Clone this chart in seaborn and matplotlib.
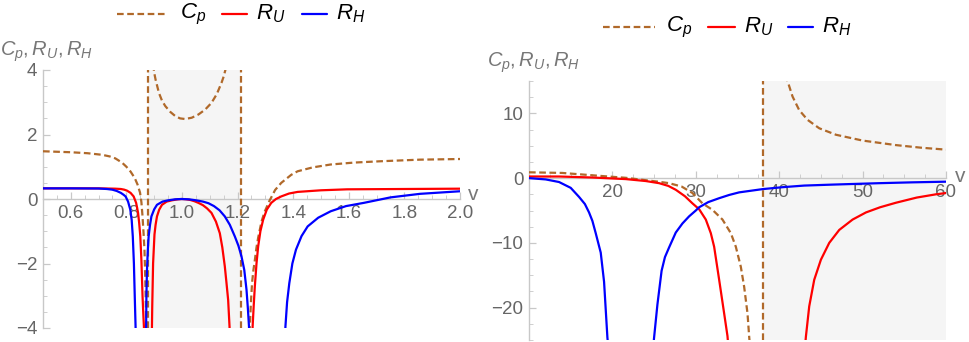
import matplotlib
matplotlib.use("Agg")
import matplotlib.pyplot as plt
import numpy as np
import pandas as pd
import seaborn as sns
from matplotlib.ticker import MultipleLocator
from matplotlib.lines import Line2D

sns.set_theme(style="white")
plt.rcParams['font.family'] = ['Liberation Sans', 'DejaVu Sans']
plt.rcParams['mathtext.fontset'] = 'custom'
plt.rcParams['mathtext.it'] = 'Liberation Sans:italic'
plt.rcParams['mathtext.rm'] = 'Liberation Sans'

# ---------------- data: left panel ----------------
cpL1_v = [0.50, 0.60, 0.66, 0.713, 0.74, 0.760, 0.784, 0.80, 0.815, 0.830, 0.840, 0.849,
          0.854, 0.858, 0.862, 0.865, 0.868, 0.8715, 0.873]
cpL1_y = [1.48, 1.45, 1.42, 1.37, 1.32, 1.26, 1.13, 1.00, 0.85, 0.65, 0.45, 0.20,
          -0.10, -0.54, -1.10, -1.57, -2.5, -3.95, -4.5]
cpL2_v = [0.897, 0.899, 0.905, 0.917, 0.928, 0.940, 0.958, 0.976, 0.993, 1.011, 1.035,
          1.059, 1.083, 1.106, 1.125, 1.142, 1.150, 1.156, 1.158]
cpL2_y = [4.5, 3.96, 3.70, 3.29, 3.05, 2.88, 2.70, 2.57, 2.50, 2.48, 2.52,
          2.62, 2.77, 2.98, 3.25, 3.60, 3.80, 4.00, 4.2]
cpL3_v = [1.240, 1.244, 1.248, 1.252, 1.257, 1.262, 1.268, 1.274, 1.286, 1.297, 1.315,
          1.335, 1.357, 1.393, 1.416, 1.470, 1.535, 1.620, 1.713, 1.856, 2.00]
cpL3_y = [-4.5, -3.96, -3.2, -2.6, -2.2, -1.9, -1.5, -1.2, -0.7, -0.4, -0.05,
          0.28, 0.50, 0.75, 0.86, 0.98, 1.07, 1.13, 1.17, 1.22, 1.24]

ruL1_v = [0.50, 0.60, 0.70, 0.76, 0.780, 0.792, 0.802, 0.815, 0.826, 0.835, 0.842, 0.846,
          0.850, 0.854, 0.858, 0.861, 0.863, 0.865]
ruL1_y = [0.33, 0.33, 0.33, 0.32, 0.31, 0.29, 0.26, 0.19, 0.08, -0.12, -0.43, -0.75,
          -1.16, -1.9, -3.0, -3.6, -3.96, -4.5]
ruL2_v = [0.891, 0.893, 0.896, 0.901, 0.905, 0.910, 0.918, 0.928, 0.945, 0.964, 0.985,
          1.000, 1.015, 1.030, 1.045, 1.059, 1.075, 1.090, 1.106, 1.122, 1.136, 1.145,
          1.154, 1.160, 1.166, 1.171, 1.173]
ruL2_y = [-4.5, -3.3, -2.0, -1.1, -0.8, -0.54, -0.33, -0.18, -0.08, -0.04, -0.01,
          0.0, -0.01, -0.03, -0.07, -0.12, -0.19, -0.29, -0.43, -0.70, -1.06, -1.5,
          -2.09, -2.6, -3.13, -3.96, -4.5]
ruL3_v = [1.252, 1.254, 1.258, 1.262, 1.268, 1.274, 1.282, 1.292, 1.305, 1.321, 1.338,
          1.357, 1.385, 1.416, 1.50, 1.594, 1.80, 2.00]
ruL3_y = [-4.5, -3.96, -3.3, -2.71, -2.0, -1.47, -1.0, -0.64, -0.33, -0.12, 0.0,
          0.08, 0.17, 0.22, 0.27, 0.30, 0.31, 0.32]

rhL1_v = [0.50, 0.60, 0.70, 0.73, 0.749, 0.765, 0.780, 0.790, 0.797, 0.806, 0.814, 0.819,
          0.823, 0.827, 0.830, 0.833, 0.834]
rhL1_y = [0.33, 0.33, 0.325, 0.31, 0.29, 0.25, 0.19, 0.13, 0.08, -0.08, -0.33, -0.65,
          -1.16, -2.0, -3.0, -3.96, -4.5]
rhL2_v = [0.869, 0.871, 0.872, 0.874, 0.877, 0.880, 0.885, 0.890, 0.900, 0.910, 0.930,
          0.951, 0.975, 0.998, 1.025, 1.050, 1.075, 1.095, 1.115, 1.135, 1.154, 1.172,
          1.190, 1.203, 1.214, 1.224, 1.232, 1.237, 1.241, 1.243]
rhL2_y = [-4.5, -3.96, -3.0, -2.2, -1.6, -1.16, -0.8, -0.54, -0.32, -0.18, -0.08,
          -0.04, -0.01, 0.0, -0.01, -0.04, -0.08, -0.13, -0.22, -0.35, -0.54, -0.8,
          -1.16, -1.45, -1.78, -2.2, -2.81, -3.4, -3.96, -4.5]
rhL3_v = [1.370, 1.372, 1.378, 1.386, 1.397, 1.410, 1.430, 1.452, 1.490, 1.535, 1.590,
          1.654, 1.750, 1.856, 2.00]
rhL3_y = [-4.5, -3.96, -3.2, -2.61, -2.0, -1.57, -1.15, -0.85, -0.58, -0.38, -0.22,
          -0.12, 0.05, 0.16, 0.24]

asym_left = [0.877, 1.213]
shade_left = [0.877, 1.213]

# ---------------- data: right panel ----------------
cpR1_v = [10, 14, 17, 19, 21.6, 23.6, 25.5, 26.8, 28.3, 29.6, 30.8, 32.0, 33.2, 34.2,
          34.8, 35.4, 35.8, 36.2, 36.4, 36.5]
cpR1_y = [0.9, 0.8, 0.5, 0.3, 0.05, -0.26, -0.55, -0.78, -1.3, -2.3, -3.9, -4.9, -6.4, -8.5,
          -10.6, -13.7, -16.8, -20.9, -24.5, -26]
cpR2_v = [40.9, 41.0, 41.6, 42.4, 43.4, 44.8, 46.8, 50.0, 54.0, 57.0, 60.0]
cpR2_y = [16.0, 15.0, 12.6, 10.5, 9.0, 7.7, 6.7, 5.8, 5.1, 4.7, 4.4]

ruR1_v = [10, 13.6, 17.5, 21.6, 24.0, 25.6, 26.7, 27.6, 28.7, 29.6, 30.4, 31.2, 31.8,
          32.2, 32.8, 33.4, 33.8, 33.9]
ruR1_y = [0.25, 0.25, 0.1, -0.15, -0.45, -0.78, -1.2, -1.8, -2.8, -3.9, -4.8, -6.4, -8.5,
          -10.6, -15.7, -20.9, -24.4, -26]
ruR2_v = [43.1, 43.2, 43.6, 44.2, 45.0, 46.0, 47.2, 48.8, 50.4, 52.1, 54.0, 56.5, 58.8, 60.0]
ruR2_y = [-26, -24.5, -19.8, -15.7, -12.6, -10.0, -8.0, -6.4, -5.3, -4.5, -3.8, -3.0, -2.5, -2.3]

rhR1_v = [10, 11, 12, 13.6, 15, 16, 16.7, 17.2, 17.6, 18.0, 18.3, 18.6, 19.0, 19.4, 19.5]
rhR1_y = [0.0, -0.1, -0.2, -0.6, -1.5, -2.9, -4.0, -5.3, -6.6, -8.5, -10.0, -11.5, -16.0,
          -24.6, -26]
rhR2_v = [24.9, 25.0, 25.4, 25.9, 26.3, 26.8, 27.6, 28.4, 29.2, 30.0, 30.4, 31.5, 32.8,
          34.0, 35.2, 38.0, 40.4, 43.0, 46.4, 52.0, 56.0, 60.0]
rhR2_y = [-26, -24.6, -19.5, -14.3, -12.2, -10.7, -8.4, -7.0, -5.9, -5.0, -4.5, -3.7, -3.1,
          -2.6, -2.2, -1.7, -1.4, -1.15, -1.0, -0.78, -0.65, -0.55]

asym_right = [38.0]
shade_right = [38.0, 60.0]

labels = ["$C_p$", "$R_U$", "$R_H$"]
colors = ["#b0692a", "#ff0000", "#0000ff"]

W, H = 969, 342
fig = plt.figure(figsize=(W / 100, H / 100), dpi=100)
axL = fig.add_axes([43 / W, 14 / H, 417 / W, 258 / H])
axR = fig.add_axes([529 / W, 2 / H, 417 / W, 259 / H])

axc = "#c8c8c8"
lw = 1.6
dash = (3.0, 1.6)


def draw(ax, branches):
    for vs, ys, idx in branches:
        df = pd.DataFrame({"v": vs, "y": ys})
        kw = dict(color=colors[idx], lw=lw, sort=False, estimator=None, legend=False)
        if idx == 0:
            kw["linestyle"] = (0, dash)
        sns.lineplot(data=df, x="v", y="y", ax=ax, zorder=3 + idx, **kw)


def style(ax, xlim, ylim, xticks, yticks, xminor, yminor, xfmt):
    ax.set_xlim(xlim)
    ax.set_ylim(ylim)
    for s in ["top", "right"]:
        ax.spines[s].set_visible(False)
    ax.spines["bottom"].set_position(("data", 0))
    for s in ["left", "bottom"]:
        ax.spines[s].set_color(axc)
        ax.spines[s].set_linewidth(1.0)
    ax.set_xticks(xticks)
    ax.set_xticklabels([xfmt.format(t) for t in xticks])
    ax.set_yticks(yticks)
    ax.set_yticklabels([("\u2212" if t < 0 else "") + str(abs(t)) for t in yticks])
    ax.xaxis.set_minor_locator(MultipleLocator(xminor))
    ax.yaxis.set_minor_locator(MultipleLocator(yminor))
    ax.tick_params(which="both", direction="in", colors=axc, labelcolor="#666666",
                   labelsize=13.5, left=True, bottom=True)
    ax.tick_params(axis="x", pad=4)
    ax.tick_params(axis="y", pad=4)
    ax.tick_params(which="major", length=5, width=0.9)
    ax.tick_params(which="minor", length=3, width=0.6)
    ax.set_xlabel("")
    ax.set_ylabel("")
    ax.grid(False)
    ax.set_facecolor("white")


# left panel
axL.axvspan(shade_left[0], shade_left[1], color="#f5f5f5", zorder=0, lw=0)
for a in asym_left:
    axL.axvline(a, color=colors[0], lw=lw, linestyle=(0, dash), zorder=3)
draw(axL, [(cpL1_v, cpL1_y, 0), (cpL2_v, cpL2_y, 0), (cpL3_v, cpL3_y, 0),
           (ruL1_v, ruL1_y, 1), (ruL2_v, ruL2_y, 1), (ruL3_v, ruL3_y, 1),
           (rhL1_v, rhL1_y, 2), (rhL2_v, rhL2_y, 2), (rhL3_v, rhL3_y, 2)])
style(axL, (0.5, 2.0), (-4, 4), [0.6, 0.8, 1.0, 1.2, 1.4, 1.6, 1.8, 2.0],
      [-4, -2, 0, 2, 4], 0.05, 0.5, "{:.1f}")

# right panel
axR.axvspan(shade_right[0], shade_right[1], color="#f5f5f5", zorder=0, lw=0)
for a in asym_right:
    axR.axvline(a, color=colors[0], lw=lw, linestyle=(0, dash), zorder=3)
draw(axR, [(cpR1_v, cpR1_y, 0), (cpR2_v, cpR2_y, 0),
           (ruR1_v, ruR1_y, 1), (ruR2_v, ruR2_y, 1),
           (rhR1_v, rhR1_y, 2), (rhR2_v, rhR2_y, 2)])
style(axR, (10, 60), (-25, 15), [20, 30, 40, 50, 60], [-20, -10, 0, 10],
      2.5, 2.5, "{:d}")

# axis labels
lab_col = "#777777"
fig.text(0 / W, 1 - 52 / H, r"$C_p,R_U,R_H$", color=lab_col, fontsize=14.5,
         ha="left", va="center")
fig.text(487 / W, 1 - 63 / H, r"$C_p,R_U,R_H$", color=lab_col, fontsize=14.5,
         ha="left", va="center")
fig.text(473 / W, 1 - 195 / H, "v", color=lab_col, fontsize=15, ha="center", va="center")
fig.text(960 / W, 1 - 176 / H, "v", color=lab_col, fontsize=15, ha="center", va="center")


# legends (drawn by hand: dashed key is twice as long as the solid keys)
def legend(x_items, cy):
    yy = 1 - cy / H
    for (x0, x1, tx), lab, col, idx in zip(x_items, labels, colors, range(3)):
        ls = (0, dash) if idx == 0 else "-"
        fig.add_artist(Line2D([x0 / W, x1 / W], [yy, yy], color=col, lw=lw,
                              linestyle=ls, transform=fig.transFigure))
        fig.text(tx / W, yy, lab, color="black", fontsize=16, ha="left", va="center")


legend([(117, 167, 180), (222, 247, 256), (302, 327, 336)], 14)
legend([(603, 655, 666), (708, 735, 744), (788, 813, 822)], 27)

fig.savefig("out.png", dpi=100)
